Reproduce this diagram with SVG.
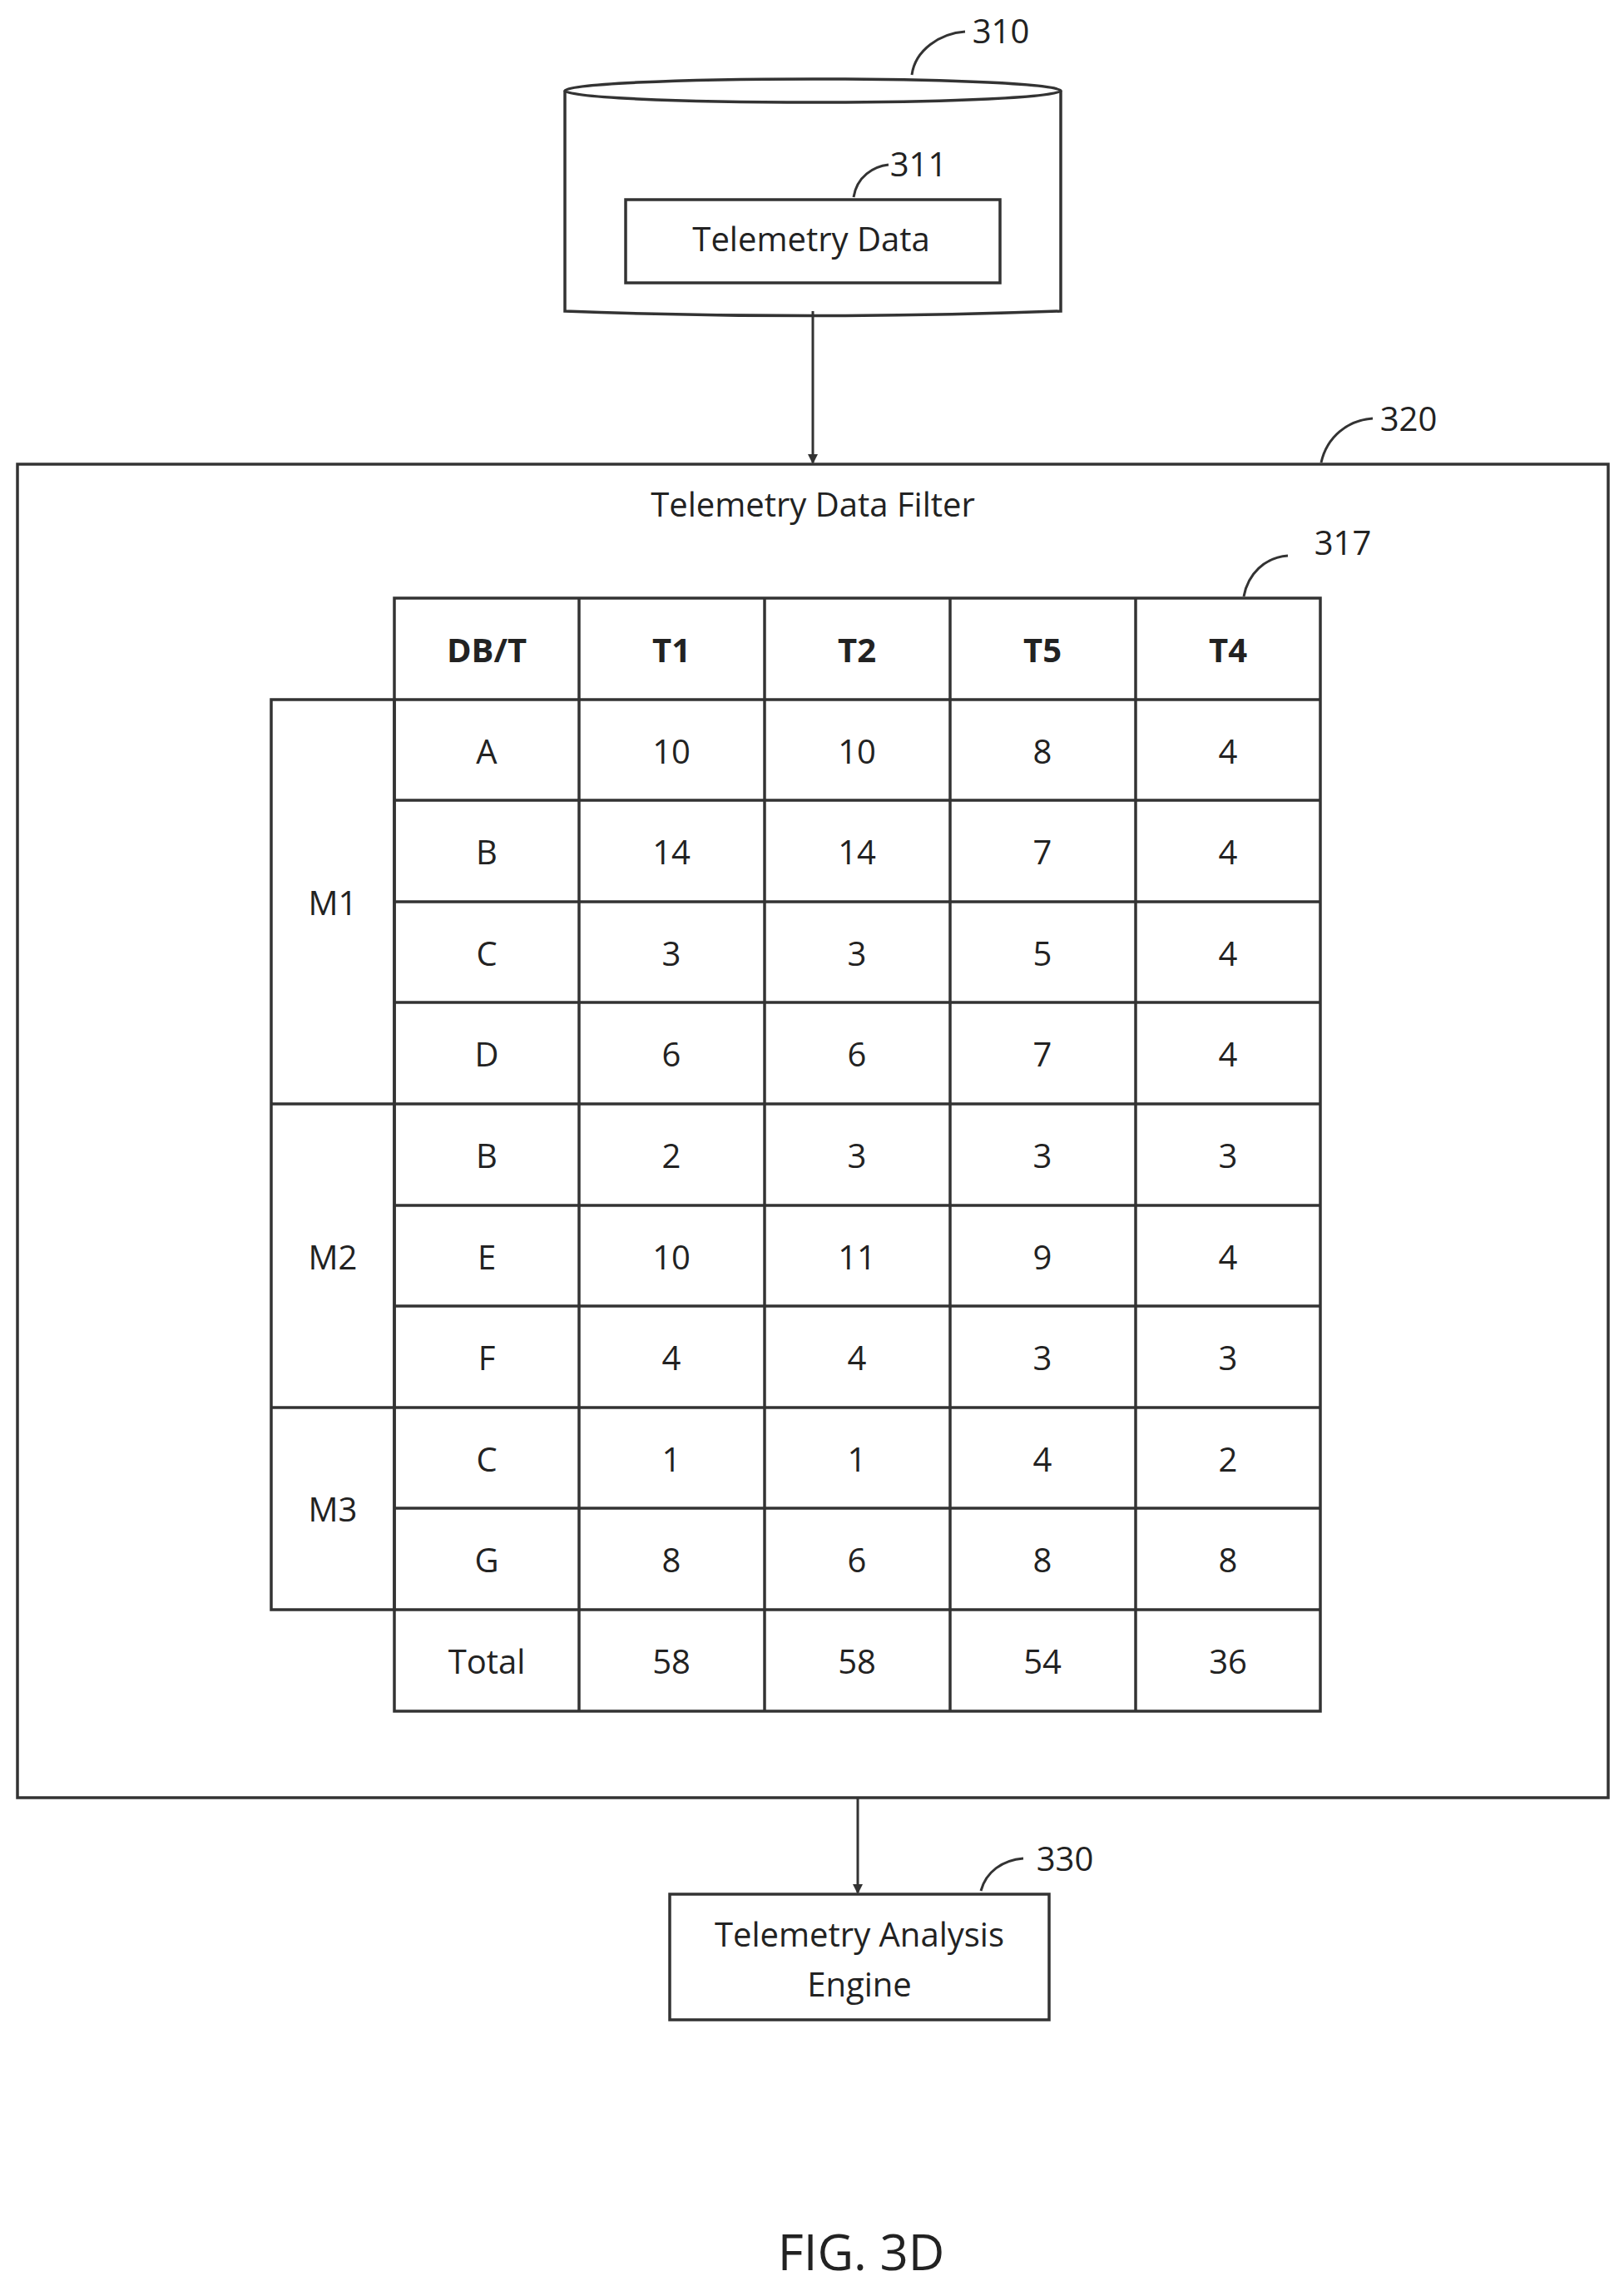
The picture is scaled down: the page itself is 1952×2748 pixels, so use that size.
<svg xmlns="http://www.w3.org/2000/svg" width="1952" height="2748" viewBox="0 0 1952 2748">
<style>
.b{fill:none;stroke:#333;stroke-width:3.5}
.t{font-family:"Open Sans","Liberation Sans",sans-serif;font-size:40px;fill:#222;text-anchor:middle;dominant-baseline:central}
.h{font-weight:bold}
.l{fill:none;stroke:#333;stroke-width:3}
</style>
<defs><marker id="a" markerWidth="12" markerHeight="12" refX="10" refY="6" orient="auto" markerUnits="userSpaceOnUse"><path d="M0,0 L12,6 L0,12 z" fill="#333"/></marker></defs>
<rect width="1952" height="2748" fill="#fff"/>
<g id="n310">
<path class="b" d="M679,109 L679,374 Q977,385 1275,374 L1275,109"/>
<ellipse class="b" cx="977" cy="109" rx="298" ry="14"/>
<path class="l" d="M1096,90 C1100,60 1130,40 1160,38"/>
<text class="t" x="1203" y="36">310</text>
</g>
<g id="n311">
<rect class="b" x="752" y="240" width="450" height="100"/>
<text class="t" x="975" y="286">Telemetry Data</text>
<path class="l" d="M1026,237 C1030,212 1050,200 1068,198"/>
<text class="t" x="1104" y="196">311</text>
</g>
<g id="n320">
<rect class="b" x="21" y="558" width="1912" height="1603"/>
<text class="t" x="977" y="605">Telemetry Data Filter</text>
<path class="l" d="M1588,556 C1595,525 1620,505 1650,503"/>
<text class="t" x="1693" y="502">320</text>
</g>
<g id="n317">
<path class="l" d="M1495,717 C1500,690 1520,670 1548,668"/>
<text class="t" x="1614" y="651">317</text>
<g class="b">
<rect x="474" y="719" width="1113" height="1338"/>
<rect x="326" y="841" width="148" height="1094"/>
<line x1="326" y1="1327" x2="474" y2="1327"/>
<line x1="326" y1="1692" x2="474" y2="1692"/>
<line x1="474" y1="841" x2="1587" y2="841"/>
<line x1="474" y1="962" x2="1587" y2="962"/>
<line x1="474" y1="1084" x2="1587" y2="1084"/>
<line x1="474" y1="1205" x2="1587" y2="1205"/>
<line x1="474" y1="1327" x2="1587" y2="1327"/>
<line x1="474" y1="1449" x2="1587" y2="1449"/>
<line x1="474" y1="1570" x2="1587" y2="1570"/>
<line x1="474" y1="1692" x2="1587" y2="1692"/>
<line x1="474" y1="1813" x2="1587" y2="1813"/>
<line x1="474" y1="1935" x2="1587" y2="1935"/>
<line x1="696" y1="719" x2="696" y2="2057"/>
<line x1="919" y1="719" x2="919" y2="2057"/>
<line x1="1142" y1="719" x2="1142" y2="2057"/>
<line x1="1365" y1="719" x2="1365" y2="2057"/>
</g>
<g class="t">
<text class="h" x="585" y="780">DB/T</text><text class="h" x="807" y="780">T1</text><text class="h" x="1030" y="780">T2</text><text class="h" x="1253" y="780">T5</text><text class="h" x="1476" y="780">T4</text>
<text x="400" y="1084">M1</text><text x="400" y="1510">M2</text><text x="400" y="1813">M3</text>
<text x="585" y="902">A</text><text x="807" y="902">10</text><text x="1030" y="902">10</text><text x="1253" y="902">8</text><text x="1476" y="902">4</text>
<text x="585" y="1023">B</text><text x="807" y="1023">14</text><text x="1030" y="1023">14</text><text x="1253" y="1023">7</text><text x="1476" y="1023">4</text>
<text x="585" y="1145">C</text><text x="807" y="1145">3</text><text x="1030" y="1145">3</text><text x="1253" y="1145">5</text><text x="1476" y="1145">4</text>
<text x="585" y="1266">D</text><text x="807" y="1266">6</text><text x="1030" y="1266">6</text><text x="1253" y="1266">7</text><text x="1476" y="1266">4</text>
<text x="585" y="1388">B</text><text x="807" y="1388">2</text><text x="1030" y="1388">3</text><text x="1253" y="1388">3</text><text x="1476" y="1388">3</text>
<text x="585" y="1510">E</text><text x="807" y="1510">10</text><text x="1030" y="1510">11</text><text x="1253" y="1510">9</text><text x="1476" y="1510">4</text>
<text x="585" y="1631">F</text><text x="807" y="1631">4</text><text x="1030" y="1631">4</text><text x="1253" y="1631">3</text><text x="1476" y="1631">3</text>
<text x="585" y="1753">C</text><text x="807" y="1753">1</text><text x="1030" y="1753">1</text><text x="1253" y="1753">4</text><text x="1476" y="1753">2</text>
<text x="585" y="1874">G</text><text x="807" y="1874">8</text><text x="1030" y="1874">6</text><text x="1253" y="1874">8</text><text x="1476" y="1874">8</text>
<text x="585" y="1996">Total</text><text x="807" y="1996">58</text><text x="1030" y="1996">58</text><text x="1253" y="1996">54</text><text x="1476" y="1996">36</text>
</g>
</g>
<g id="n330">
<rect class="b" x="805" y="2277" width="456" height="151"/>
<text class="t" x="1033" y="2324">Telemetry Analysis</text>
<text class="t" x="1033" y="2384">Engine</text>
<path class="l" d="M1179,2273 C1185,2250 1205,2236 1230,2234"/>
<text class="t" x="1280" y="2233">330</text>
</g>
<g id="connectors">
<line class="l" x1="977" y1="374" x2="977" y2="556" marker-end="url(#a)"/>
<line class="l" x1="1031" y1="2161" x2="1031" y2="2275" marker-end="url(#a)"/>
</g>
<text class="t" x="1035" y="2706" style="font-size:60px">FIG. 3D</text>
</svg>
